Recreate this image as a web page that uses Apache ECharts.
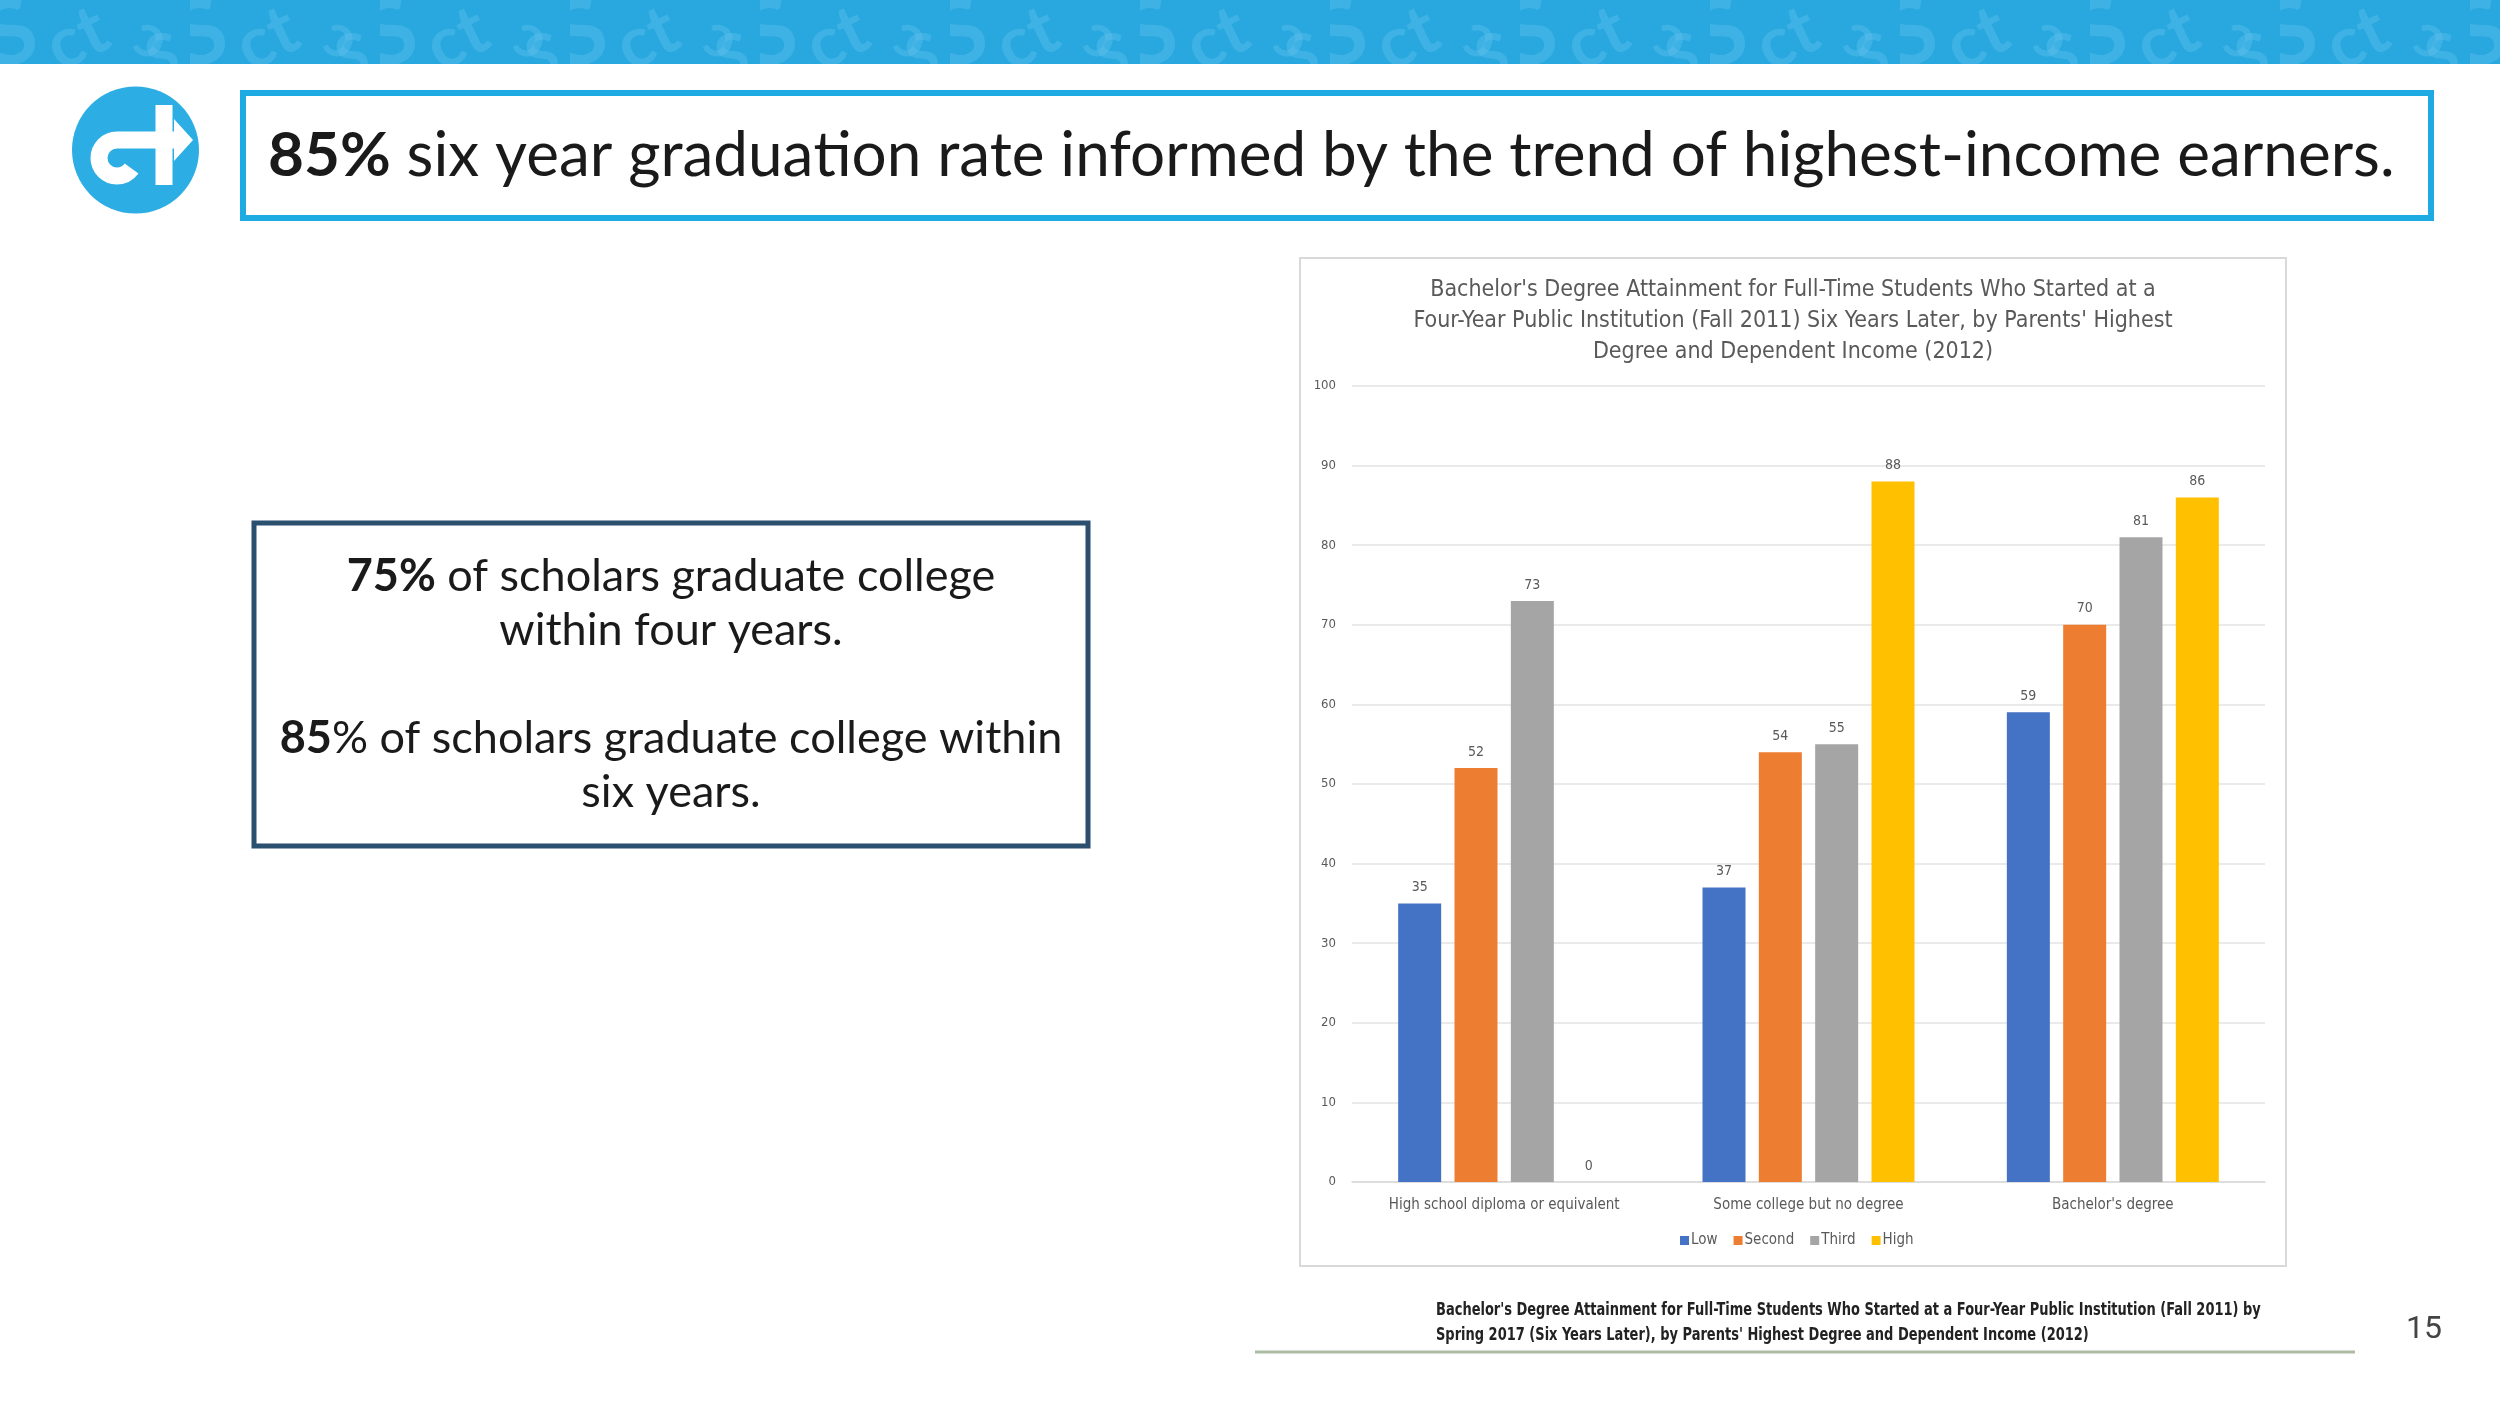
<!DOCTYPE html>
<html>
<head>
<meta charset="utf-8">
<script src="https://cdn.jsdelivr.net/npm/echarts@6/dist/echarts.min.js"></script>
<style>
html,body{margin:0;padding:0;background:#fff;}
#c{width:2500px;height:1406px;}
</style>
</head>
<body>
<div id="c"></div>
<script>
// ---- data ----
var categories = ['High school diploma or equivalent', 'Some college but no degree', "Bachelor's degree"];
var seriesNames = ['Low', 'Second', 'Third', 'High'];
var lowValues = [35, 37, 59];
var secondValues = [52, 54, 70];
var thirdValues = [73, 55, 81];
var highValues = [0, 88, 86];
var yTicks = [0, 10, 20, 30, 40, 50, 60, 70, 80, 90, 100];

var chartTitleLines = [
  "Bachelor's Degree Attainment for Full-Time Students Who Started at a",
  "Four-Year Public Institution (Fall 2011) Six Years Later, by Parents' Highest",
  "Degree and Dependent Income (2012)"
];
var captionLines = [
  "Bachelor's Degree Attainment for Full-Time Students Who Started at a Four-Year Public Institution (Fall 2011) by",
  "Spring 2017 (Six Years Later), by Parents' Highest Degree and Dependent Income (2012)"
];

var NARROW = "'Liberation Sans Narrow','DejaVu Sans Condensed','Roboto Condensed',sans-serif";
var SLIDE = "Lato,'Noto Sans',sans-serif";

// banner pattern canvas (decorative)
var pc = document.createElement('canvas');
pc.width = 190; pc.height = 64;
var g = pc.getContext('2d');
g.fillStyle = '#29a8df'; g.fillRect(0, 0, 190, 64);
g.fillStyle = 'rgba(110,200,238,0.32)';
g.font = 'bold 90px Lato, sans-serif';
g.save(); g.translate(-4, 70); g.rotate(-0.3); g.fillText('S', 0, 0); g.restore();
g.font = 'bold 70px Lato, sans-serif';
g.save(); g.translate(60, 72); g.rotate(-0.45); g.fillText('ct', 0, 0); g.restore();
g.font = 'bold 60px Lato, sans-serif';
g.save(); g.translate(130, 50); g.rotate(0.4); g.fillText('ɔ', 0, 0); g.restore();
g.save(); g.translate(150, 80); g.rotate(-0.2); g.fillText('S', 0, 0); g.restore();

var chart = echarts.init(document.getElementById('c'), null, {renderer: 'canvas'});

var seriesData = [lowValues, secondValues, thirdValues, highValues];
var series = seriesNames.map(function (n, i) {
  return {
    name: n,
    type: 'bar',
    data: seriesData[i],
    barWidth: 43,
    barGap: '31%',
    label: {show: true, position: 'top', distance: 9, color: '#595959', fontSize: 14, fontFamily: NARROW},
    emphasis: {disabled: true}
  };
});

var reg62 = {fontSize: 62, fontFamily: SLIDE, fill: '#1a1a1a'};
var graphics = [
  {type: 'rect', shape: {x: 0, y: 0, width: 2500, height: 64}, style: {fill: '#29a8df'}, z: 0},
  {type: 'rect', shape: {x: 0, y: 0, width: 2500, height: 64}, style: {fill: {image: pc, repeat: 'repeat'}}, z: 1},
  // logo
  {type: 'circle', shape: {cx: 135.5, cy: 150, r: 63.5}, style: {fill: '#2caee4'}, z: 1},
  {type: 'arc', shape: {cx: 117, cy: 158, r: 18, startAngle: -Math.PI / 2, endAngle: Math.PI * 0.2, clockwise: false},
    style: {stroke: '#fff', lineWidth: 17, fill: null}, z: 2},
  {type: 'line', shape: {x1: 117, y1: 140, x2: 178, y2: 140}, style: {stroke: '#fff', lineWidth: 17}, z: 2},
  {type: 'line', shape: {x1: 164, y1: 105, x2: 164, y2: 185}, style: {stroke: '#fff', lineWidth: 17}, z: 2},
  {type: 'polygon', shape: {points: [[174, 119], [193, 140], [174, 161]]}, style: {fill: '#fff'}, z: 2},
  // title box
  {type: 'rect', shape: {x: 243, y: 93, width: 2188, height: 125}, style: {fill: '#fff', stroke: '#1eaae2', lineWidth: 6}, z: 1},
  {type: 'text', x: 268, y: 156, z: 2,
    style: {text: '{b|85%}{n| six year gradua}{n|tion rate informed by the trend of highest-income earners.}',
      fontSize: 62, fontFamily: SLIDE, fill: '#1a1a1a', verticalAlign: 'middle', textAlign: 'left',
      rich: {b: {fontWeight: 'bold', fontSize: 62, fontFamily: SLIDE, fill: '#1a1a1a'}, n: reg62}}},
  // left text box
  {type: 'rect', shape: {x: 254, y: 523, width: 834, height: 323}, style: {fill: '#fff', stroke: '#2b4f6f', lineWidth: 5}, z: 1},
  {type: 'text', x: 671, y: 576, z: 2,
    style: {text: '{b|75%} of scholars graduate college', fontSize: 45, fontFamily: SLIDE, fill: '#1a1a1a',
      textAlign: 'center', verticalAlign: 'middle', rich: {b: {fontWeight: 'bold', fontSize: 45, fontFamily: SLIDE}}}},
  {type: 'text', x: 671, y: 630, z: 2,
    style: {text: 'within four years.', fontSize: 45, fontFamily: SLIDE, fill: '#1a1a1a', textAlign: 'center', verticalAlign: 'middle'}},
  {type: 'text', x: 671, y: 738, z: 2,
    style: {text: '{b|85}% of scholars graduate college within', fontSize: 45, fontFamily: SLIDE, fill: '#1a1a1a',
      textAlign: 'center', verticalAlign: 'middle', rich: {b: {fontWeight: 'bold', fontSize: 45, fontFamily: SLIDE}}}},
  {type: 'text', x: 671, y: 792, z: 2,
    style: {text: 'six years.', fontSize: 45, fontFamily: SLIDE, fill: '#1a1a1a', textAlign: 'center', verticalAlign: 'middle'}},
  // chart frame
  {type: 'rect', shape: {x: 1300, y: 258, width: 986, height: 1008}, style: {fill: null, stroke: '#d9d9d9', lineWidth: 2}, z: 1},
  // caption + underline + page number
  {type: 'line', shape: {x1: 1255, y1: 1352, x2: 2355, y2: 1352}, style: {stroke: '#aebca6', lineWidth: 3}, z: 1},
  {type: 'text', x: 2424, y: 1330, z: 2,
    style: {text: '15', fontSize: 32, fontFamily: "'Roboto','Noto Sans',sans-serif", fill: '#444', textAlign: 'center', verticalAlign: 'middle'}}
];

chartTitleLines.forEach(function (t, i) {
  graphics.push({type: 'text', x: 1793, y: 290 + i * 31, z: 2,
    style: {text: t, fontSize: 23, fontFamily: NARROW, fill: '#595959', textAlign: 'center', verticalAlign: 'middle'}});
});
captionLines.forEach(function (t, i) {
  graphics.push({type: 'text', x: 1436, y: 1311 + i * 25, z: 2, scaleX: 0.85,
    style: {text: t, fontSize: 17, fontWeight: 'bold', fontFamily: NARROW, fill: '#222', textAlign: 'left', verticalAlign: 'middle'}});
});

chart.setOption({
  animation: false,
  color: ['#4472c4', '#ed7d31', '#a5a5a5', '#ffc000'],
  graphic: graphics,
  grid: {left: 1352, right: 235, top: 386, bottom: 224, containLabel: false},
  legend: {
    data: seriesNames, left: 1675, top: 1228, icon: 'rect', itemWidth: 9, itemHeight: 9, itemGap: 16,
    textStyle: {color: '#595959', fontSize: 15, fontFamily: NARROW, padding: [0, 0, 0, -3]},
    selectedMode: false
  },
  xAxis: {
    type: 'category', data: categories,
    axisLine: {lineStyle: {color: '#d9d9d9', width: 1.5}},
    axisTick: {show: false},
    axisLabel: {color: '#595959', fontSize: 15, fontFamily: NARROW, margin: 16}
  },
  yAxis: {
    type: 'value', min: yTicks[0], max: yTicks[yTicks.length - 1], interval: yTicks[1] - yTicks[0],
    axisLine: {show: false}, axisTick: {show: false},
    axisLabel: {color: '#595959', fontSize: 13, fontFamily: NARROW, margin: 16},
    splitLine: {lineStyle: {color: '#e3e3e3', width: 1.5}}
  },
  series: series
});
</script>
</body>
</html>
